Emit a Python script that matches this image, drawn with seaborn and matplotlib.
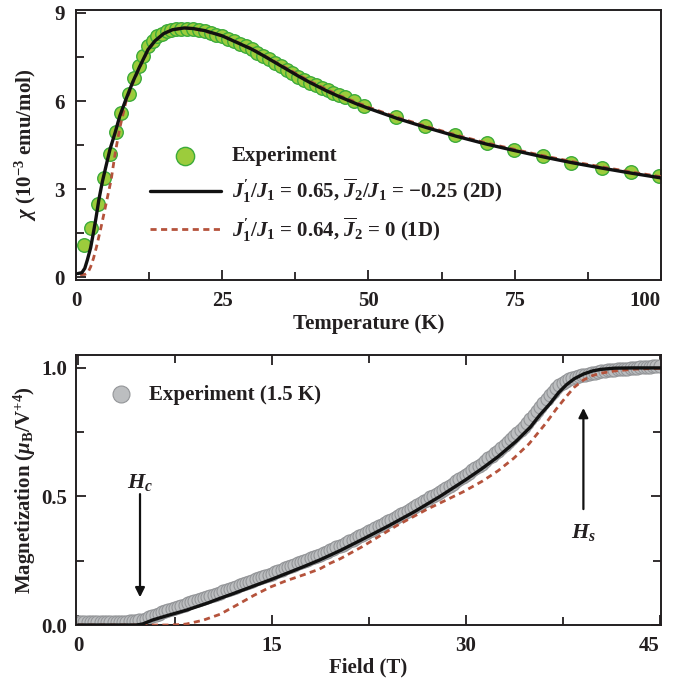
import numpy as np
import matplotlib
matplotlib.use("Agg")
import matplotlib.pyplot as plt
from matplotlib.ticker import MultipleLocator, FormatStrFormatter
import seaborn as sns

# TOP PANEL: susceptibility vs temperature
temp_exp = [1.4, 2.5, 3.7, 4.7, 5.8, 6.9, 7.7, 9.1, 9.9, 10.8,
            11.5, 12.3, 13.1, 13.9, 14.7, 15.5, 16.3, 17.1, 18.0, 19.0,
            20.0, 21.0, 22.0, 23.0, 24.0, 25.0, 26.0, 27.0, 28.0, 29.0,
            30.0, 31.0, 32.0, 33.0, 34.0, 35.0, 36.0, 37.0, 38.0, 39.0,
            40.0, 41.0, 42.0, 43.0, 44.0, 45.0, 46.0, 47.6, 49.3,
            54.7, 59.7, 64.8, 70.2, 74.9, 79.9, 84.7, 90.0, 94.8, 99.7]
chi_exp = [1.09, 1.68, 2.49, 3.37, 4.20, 4.96, 5.58, 6.23, 6.77, 7.21,
           7.54, 7.86, 8.05, 8.20, 8.30, 8.37, 8.42, 8.45, 8.47, 8.46,
           8.44, 8.41, 8.37, 8.32, 8.26, 8.20, 8.12, 8.04, 7.95, 7.86,
           7.76, 7.65, 7.54, 7.43, 7.31, 7.19, 7.07, 6.95, 6.83, 6.72,
           6.62, 6.53, 6.44, 6.36, 6.28, 6.21, 6.13, 5.99, 5.83,
           5.47, 5.15, 4.85, 4.56, 4.33, 4.11, 3.90, 3.73, 3.57, 3.43]

temp_2d = [0.3, 1.0, 1.5, 1.93, 2.5, 2.95, 3.4, 3.9, 4.5, 5.1, 5.8, 6.65, 7.5, 8.5,
           9.7, 10.9, 12.3, 13.5, 15.0, 16.5, 18.5, 20.0, 22.0, 25.0, 28.0, 30.0,
           32.0, 35.0, 38.0, 40.0, 43.0, 45.0, 48.0, 50.0, 55.0, 60.0, 65.0, 70.0,
           75.0, 80.0, 85.0, 90.0, 95.0, 100.0]
chi_2d = [0.12, 0.15, 0.30, 0.58, 1.00, 1.49, 2.00, 2.63, 3.25, 3.76, 4.35, 4.90, 5.50, 6.04,
          6.65, 7.18, 7.75, 8.05, 8.30, 8.43, 8.49, 8.47, 8.40, 8.22, 7.95, 7.77,
          7.55, 7.20, 6.85, 6.63, 6.33, 6.15, 5.90, 5.75, 5.40, 5.09, 4.80, 4.54,
          4.31, 4.09, 3.89, 3.71, 3.54, 3.38]

temp_1d = [0.7, 1.5, 2.0, 2.5, 3.0, 3.5, 4.3, 5.15, 6.0, 6.6, 6.9, 7.5, 8.5, 9.7,
           10.9, 12.3, 13.5, 15.0, 16.5, 18.5, 20.0, 25.0, 30.0, 35.0, 40.0, 45.0,
           50.0, 55.0, 60.0, 65.0, 70.0, 75.0, 80.0, 85.0, 90.0, 95.0, 100.0]
chi_1d = [0.08, 0.09, 0.14, 0.35, 0.65, 1.03, 1.72, 2.51, 3.31, 4.10, 4.45, 5.10, 5.95, 6.60,
          7.15, 7.73, 8.04, 8.30, 8.43, 8.49, 8.47, 8.23, 7.79, 7.23, 6.67, 6.19,
          5.79, 5.44, 5.13, 4.84, 4.58, 4.35, 4.13, 3.93, 3.75, 3.58, 3.42]

# BOTTOM PANEL: magnetization vs field (1.5 K)
field_exp = np.arange(0, 45.01, 0.25)
mag_exp = [0.012, 0.012, 0.012, 0.012, 0.012, 0.012, 0.012, 0.012, 0.012, 0.012,
           0.012, 0.012, 0.012, 0.012, 0.012,
           0.013, 0.014, 0.015, 0.016, 0.018, 0.020, 0.025, 0.030, 0.035, 0.040,
           0.044, 0.049, 0.053, 0.058, 0.062, 0.066, 0.071, 0.075, 0.079, 0.084,
           0.088, 0.092, 0.096, 0.100, 0.104,
           0.108, 0.113, 0.117, 0.122, 0.126, 0.131, 0.135, 0.140, 0.144, 0.149,
           0.154, 0.159, 0.163, 0.168, 0.173, 0.178, 0.182, 0.187, 0.191, 0.196,
           0.200, 0.205, 0.210, 0.215, 0.220, 0.225, 0.230, 0.235, 0.240, 0.244,
           0.249, 0.254, 0.259, 0.264, 0.269, 0.274, 0.280, 0.285, 0.291, 0.296,
           0.302, 0.307, 0.313, 0.319, 0.326, 0.332, 0.339, 0.345, 0.352, 0.358,
           0.365, 0.371, 0.378, 0.384, 0.390, 0.397, 0.403, 0.410, 0.417, 0.424,
           0.431, 0.437, 0.444, 0.451, 0.458, 0.466, 0.473, 0.481, 0.488, 0.496,
           0.503, 0.511, 0.518, 0.526, 0.534, 0.542, 0.550, 0.559, 0.567, 0.575,
           0.583, 0.592, 0.601, 0.610, 0.619, 0.628, 0.638, 0.648, 0.658, 0.668,
           0.678, 0.689, 0.700, 0.711, 0.722, 0.734, 0.745, 0.758, 0.771, 0.785,
           0.800, 0.816, 0.832, 0.848, 0.864, 0.880, 0.895, 0.908, 0.920, 0.932,
           0.942, 0.950, 0.956, 0.961, 0.964, 0.968, 0.971, 0.974, 0.977, 0.980,
           0.982, 0.985, 0.987, 0.989, 0.990, 0.992, 0.993, 0.994, 0.995, 0.996,
           0.997, 0.999, 1.000, 1.001, 1.002, 1.003, 1.004, 1.005, 1.006, 1.007,
           1.008]

field_2d = [0.0, 4.5, 5.0, 5.8, 7.0, 8.4, 10.0, 11.0, 12.0, 13.6, 15.0, 16.1, 17.5, 18.7,
            20.3, 22.0, 24.0, 26.0, 28.0, 30.0, 31.3, 32.5, 33.9, 35.0, 35.7, 36.5,
            37.2, 37.8, 38.4, 39.1, 39.8, 40.4, 41.5, 43.0, 45.2]
mag_2d = [0.0, 0.0, 0.004, 0.020, 0.038, 0.058, 0.085, 0.104, 0.122, 0.152, 0.178, 0.200, 0.228, 0.253,
          0.290, 0.333, 0.385, 0.440, 0.500, 0.565, 0.610, 0.655, 0.715, 0.770, 0.815, 0.860,
          0.905, 0.935, 0.958, 0.976, 0.988, 0.994, 0.999, 1.000, 1.000]

field_1d = [0.0, 7.0, 8.0, 8.4, 9.7, 11.0, 12.3, 13.6, 14.85, 16.1, 17.5, 18.7, 19.5,
            20.3, 22.0, 24.6, 27.0, 29.8, 31.3, 32.5, 33.7, 34.9, 36.2, 37.0, 37.8,
            38.4, 39.1, 39.8, 40.4, 41.5, 43.0, 45.2]
mag_1d = [0.0, 0.0, 0.002, 0.004, 0.019, 0.042, 0.078, 0.115, 0.147, 0.172, 0.196, 0.218, 0.240,
          0.258, 0.305, 0.385, 0.450, 0.518, 0.560, 0.600, 0.648, 0.705, 0.785, 0.840, 0.890,
          0.925, 0.953, 0.970, 0.979, 0.988, 0.995, 0.999]

# STYLE
sns.set_style("ticks")
ink = "#231f20"
plt.rcParams.update({
    "font.family": ["Liberation Serif", "DejaVu Serif"],
    "font.weight": "bold",
    "axes.labelweight": "bold",
    "mathtext.fontset": "custom",
    "mathtext.rm": "Liberation Serif:bold",
    "mathtext.it": "Liberation Serif:bold:italic",
    "mathtext.bf": "Liberation Serif:bold",
    "text.color": ink,
    "axes.labelcolor": ink,
    "axes.edgecolor": ink,
    "xtick.color": ink,
    "ytick.color": ink,
    "axes.linewidth": 1.4,
})
FS = 15

fig = plt.figure(figsize=(6.77, 6.79), dpi=100)
ax1 = fig.add_axes([0.1123, 0.5876, 0.864, 0.3976])
ax2 = fig.add_axes([0.1123, 0.0795, 0.864, 0.3976])

green_face = "#9ccc3c"
green_edge = "#3cab3a"
red = "#b5533c"

# TOP PANEL
sns.scatterplot(x=temp_exp, y=chi_exp, ax=ax1, s=95, color=green_face,
                edgecolor=green_edge, linewidth=1.0, label="Experiment", zorder=2)
sns.lineplot(x=temp_1d, y=chi_1d, ax=ax1, color=red, lw=2.0, linestyle=(0, (2.2, 1.6)),
             estimator=None, label="1D", zorder=3)
sns.lineplot(x=temp_2d, y=chi_2d, ax=ax1, color="#111111", lw=2.4, estimator=None,
             label="2D", zorder=4)

h, l = ax1.get_legend_handles_labels()
labels_top = ["Experiment",
              r"$J_1'/J_1$ = 0.65, $\overline{J}_2/J_1$ = " + "\u2212" + "0.25 (2D)",
              r"$J_1'/J_1$ = 0.64, $\overline{J}_2$ = 0 (1D)"]
ax1.legend([h[0], h[2], h[1]], labels_top, loc="upper left", bbox_to_anchor=(0.126, 0.495),
           frameon=False, fontsize=FS, handlelength=3.4, handletextpad=0.55,
           labelspacing=0.5, borderpad=0, borderaxespad=0, markerscale=1.35)

ax1.set_xlim(0, 100)
ax1.set_ylim(-0.1, 9.1)
ax1.xaxis.set_major_locator(MultipleLocator(25))
ax1.xaxis.set_minor_locator(MultipleLocator(12.5))
ax1.yaxis.set_major_locator(MultipleLocator(3))
ax1.yaxis.set_minor_locator(MultipleLocator(1.5))
ax1.tick_params(which="both", direction="in", labelsize=FS, width=1.3)
ax1.tick_params(axis="x", which="both", pad=8)
ax1.tick_params(axis="y", which="both", pad=8)
ax1.tick_params(which="major", length=7)
ax1.tick_params(which="minor", length=6)
ax1.set_xlabel("Temperature (K)", fontsize=FS, labelpad=2)
ax1.set_ylabel(r"$\chi$ (10$^{-3}$ emu/mol)", fontsize=FS, labelpad=11)

# BOTTOM PANEL
sns.scatterplot(x=field_exp, y=mag_exp, ax=ax2, s=88, color="#bcbec0",
                edgecolor="#939598", linewidth=0.8, label="Experiment (1.5 K)", zorder=2)
sns.lineplot(x=field_1d, y=mag_1d, ax=ax2, color=red, lw=2.0, linestyle=(0, (2.2, 1.6)),
             estimator=None, zorder=3)
sns.lineplot(x=field_2d, y=mag_2d, ax=ax2, color="#111111", lw=2.4, estimator=None, zorder=4)

ax2.legend(loc="upper left", bbox_to_anchor=(0.042, 0.89), frameon=False, fontsize=FS,
           handlelength=2.0, handletextpad=0.3, borderpad=0, borderaxespad=0,
           markerscale=1.3)

ax2.annotate("", xy=(4.8, 0.097), xytext=(4.8, 0.52),
             arrowprops=dict(arrowstyle="-|>", color="#111111", lw=1.6, mutation_scale=14))
ax2.text(4.8, 0.553, r"$H_c$", fontsize=16, ha="center", va="center")
ax2.annotate("", xy=(39.1, 0.855), xytext=(39.1, 0.44),
             arrowprops=dict(arrowstyle="-|>", color="#111111", lw=1.6, mutation_scale=14))
ax2.text(39.1, 0.36, r"$H_s$", fontsize=16, ha="center", va="center")

ax2.set_xlim(-0.15, 45.1)
ax2.set_ylim(0, 1.05)
ax2.xaxis.set_major_locator(MultipleLocator(15))
ax2.xaxis.set_minor_locator(MultipleLocator(7.5))
ax2.yaxis.set_major_locator(MultipleLocator(0.5))
ax2.yaxis.set_minor_locator(MultipleLocator(0.25))
ax2.yaxis.set_major_formatter(FormatStrFormatter("%.1f"))
ax2.tick_params(which="both", direction="in", labelsize=FS, width=1.3,
                top=True, right=True)
ax2.tick_params(axis="x", which="both", pad=8)
ax2.tick_params(axis="y", which="both", pad=6.5)
ax2.tick_params(which="major", length=7)
ax2.tick_params(which="minor", length=6)
ax2.set_xlabel("Field (T)", fontsize=FS, labelpad=1)
ax2.set_ylabel(r"Magnetization ($\mu_\mathrm{B}$/V$^{+4}$)", fontsize=FS, labelpad=2)

for ax in (ax1, ax2):
    for sp in ax.spines.values():
        sp.set_visible(True)

# rightmost tick labels end at the right spine, as in the original
fig.canvas.draw()
for ax in (ax1, ax2):
    ticks = ax.xaxis.get_major_ticks()
    visible = [t for t in ticks if ax.get_xlim()[0] <= t.get_loc() <= ax.get_xlim()[1]]
    visible[-1].label1.set_horizontalalignment("right")

fig.savefig("out.png", dpi=100)
